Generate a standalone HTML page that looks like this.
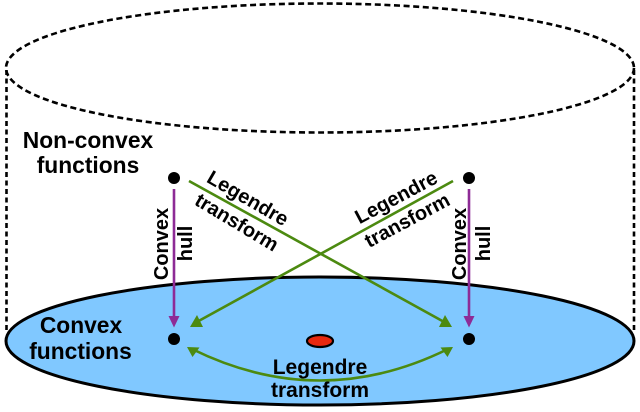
<!DOCTYPE html>
<html><head><meta charset="utf-8">
<style>html,body{margin:0;padding:0;background:#fff}svg{display:block}
text{font-family:"Liberation Sans",sans-serif;font-weight:bold;fill:#000;text-anchor:middle}</style></head>
<body>
<svg width="640" height="412" viewBox="0 0 640 412" xmlns="http://www.w3.org/2000/svg">
<ellipse cx="320" cy="341" rx="314" ry="64" fill="#80c8ff" stroke="#000" stroke-width="3"/>
<ellipse cx="320" cy="68" rx="314" ry="64.5" fill="none" stroke="#000" stroke-width="2.6" stroke-dasharray="6 3.6"/>
<line x1="6.5" y1="70" x2="6.5" y2="333" stroke="#000" stroke-width="2.6" stroke-dasharray="5 3.5"/>
<line x1="634" y1="70" x2="634" y2="333" stroke="#000" stroke-width="2.6" stroke-dasharray="5 3.5"/>
<ellipse cx="320" cy="341" rx="13" ry="6" fill="#e8290f" stroke="#000" stroke-width="2.2"/>
<circle cx="174" cy="178" r="6"/><circle cx="469" cy="178" r="6"/>
<circle cx="174" cy="339" r="6"/><circle cx="469" cy="339" r="6"/>
<g stroke="#8e2b96" stroke-width="2.6" fill="#8e2b96">
<line x1="174" y1="189" x2="174" y2="318"/>
<polygon points="168.5,316 179.5,316 174,327.5" stroke="none"/>
<line x1="469" y1="189" x2="469" y2="318"/>
<polygon points="463.5,316 474.5,316 469,327.5" stroke="none"/>
</g>
<g stroke="#4c8a10" stroke-width="2.6" fill="none">
<line x1="189" y1="181" x2="446" y2="323"/>
<line x1="453" y1="181" x2="195" y2="323"/>
<path d="M192,349 Q320,412 448,349"/>
</g>
<g fill="#4c8a10">
<polygon points="452,327 439,327 445,315"/>
<polygon points="190,327 203,327 197,315"/>
<polygon points="187,347 199.5,347.5 192.5,357"/>
<polygon points="453,347 440.5,347.5 447.5,357"/>
</g>
<g font-size="22.8">
<text x="88" y="148">Non-convex</text>
<text x="88" y="173">functions</text>
<text x="81" y="333">Convex</text>
<text x="80.5" y="359">functions</text>
</g>
<g font-size="21">
<text x="320" y="374">Legendre</text>
<text x="320" y="397">transform</text>
</g>
<g font-size="20">
<text transform="translate(248,198) rotate(30)" y="7">Legendre</text>
<text transform="translate(237,222) rotate(31)" y="7">transform</text>
<text transform="translate(396,197) rotate(-28)" y="7">Legendre</text>
<text transform="translate(407,220) rotate(-28)" y="7">transform</text>
<text transform="translate(161,244) rotate(-90)" y="7">Convex</text>
<text transform="translate(185,243.5) rotate(-90)" y="7">hull</text>
<text transform="translate(459,244) rotate(-90)" y="7">Convex</text>
<text transform="translate(483,243.5) rotate(-90)" y="7">hull</text>
</g>
</svg>
</body></html>
